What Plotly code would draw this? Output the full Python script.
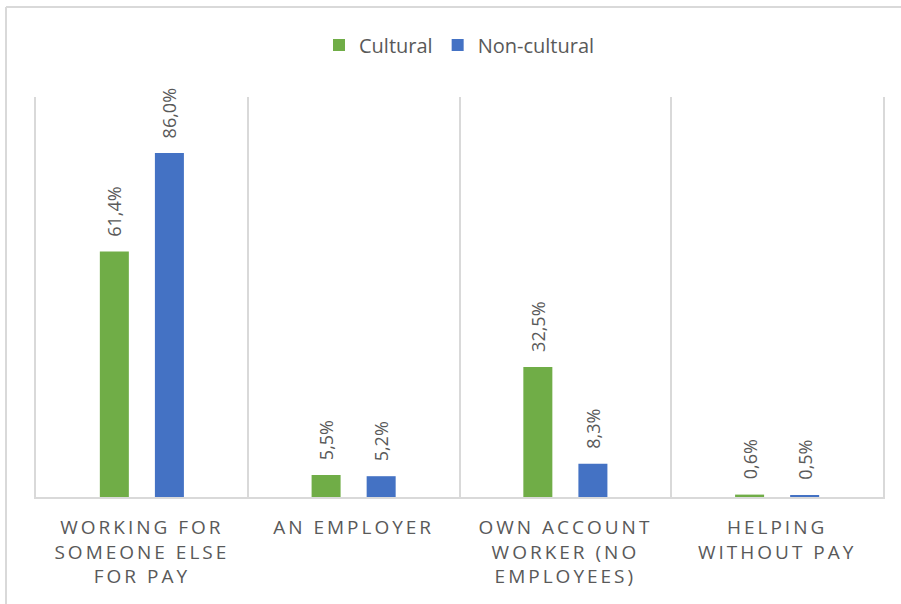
import plotly.graph_objects as go

# Employment status shares (%) by sector
categories = [
    "WORKING FOR<br>SOMEONE ELSE<br>FOR PAY",
    "AN EMPLOYER",
    "OWN ACCOUNT<br>WORKER (NO<br>EMPLOYEES)",
    "HELPING<br>WITHOUT PAY",
]
cultural = [61.4, 5.5, 32.5, 0.6]
non_cultural = [86.0, 5.2, 8.3, 0.5]

series_names = ["Cultural", "Non-cultural"]
series_colors = ["#70AD47", "#4472C4"]

TEXT = "#595959"
GRID = "#D9D9D9"
FONT = "Open Sans"


def pct(v):
    return f"{v:.1f}".replace(".", ",") + "%"


fig = go.Figure()
for name, vals, col in zip(series_names, [cultural, non_cultural], series_colors):
    fig.add_trace(go.Bar(
        x=categories, y=vals, name=name,
        marker=dict(color=col, line=dict(width=0)),
        hoverinfo="skip",
    ))

# rotated value labels above each bar
annotations = []
for vals, shift in zip([cultural, non_cultural], [-27.5, 27.5]):
    for cat, v in zip(categories, vals):
        annotations.append(dict(
            x=cat, y=v, xref="x", yref="y",
            text=pct(v), showarrow=False, textangle=-90,
            xanchor="center", yanchor="bottom",
            xshift=shift, yshift=13,
            font=dict(family=FONT, size=18, color=TEXT),
        ))

# chart frame (top and left edges)
L, R, T, B = 36, 18, 97, 107
W, H = 901, 604
pw, ph = W - L - R, H - T - B
fx = (6 - L) / pw
fy = (H - B - 7) / ph
shapes = [
    dict(type="line", xref="paper", yref="paper", x0=fx, x1=1.2, y0=fy, y1=fy,
         line=dict(color=GRID, width=2)),
    dict(type="line", xref="paper", yref="paper", x0=fx, x1=fx, y0=fy, y1=-0.5,
         line=dict(color=GRID, width=2)),
]

fig.update_layout(
    width=W, height=H,
    margin=dict(l=L, r=R, t=T, b=B),
    paper_bgcolor="white", plot_bgcolor="white",
    barmode="group", bargap=0.48, bargroupgap=0.473,
    font=dict(family=FONT, color=TEXT),
    legend=dict(
        orientation="h", x=0.5, xanchor="center", y=1.13, yanchor="middle",
        font=dict(family=FONT, size=20, color=TEXT),
        itemclick=False, itemdoubleclick=False,
    ),
    annotations=annotations,
    shapes=shapes,
    showlegend=True,
)
fig.update_xaxes(
    type="category", range=[-0.5, 3.5],
    tickson="boundaries", ticks="", showgrid=True, gridcolor=GRID, gridwidth=2,
    showline=True, linecolor=GRID, linewidth=2,
    tickangle=0, ticklabelstandoff=12,
    tickfont=dict(family=FONT, size=19, color=TEXT),
)
fig.update_yaxes(
    range=[0, 100], showgrid=False, zeroline=False, showticklabels=False,
    showline=True, mirror=True, linecolor=GRID, linewidth=2, ticks="",
)

spacing_js = """
var gd = document.getElementById('{plot_id}');
gd.querySelectorAll('.xtick text').forEach(function (t) {
    t.style.letterSpacing = '3px';
});
"""

fig.write_html("out.html", post_script=spacing_js, config={"displayModeBar": False})
